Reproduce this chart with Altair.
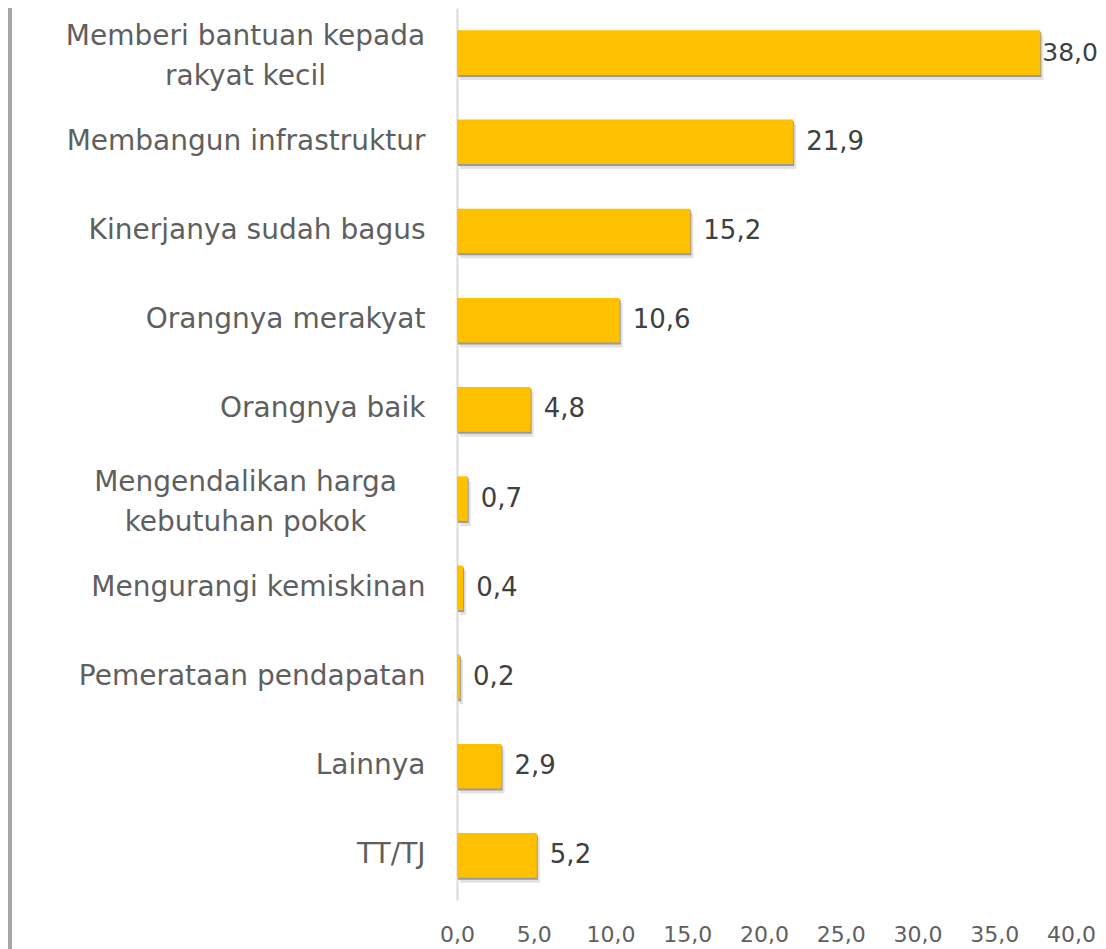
import altair as alt
import pandas as pd

categories = [
    "Memberi bantuan kepada|rakyat kecil",
    "Membangun infrastruktur",
    "Kinerjanya sudah bagus",
    "Orangnya merakyat",
    "Orangnya baik",
    "Mengendalikan harga|kebutuhan pokok",
    "Mengurangi kemiskinan",
    "Pemerataan pendapatan",
    "Lainnya",
    "TT/TJ",
]
values = [38.0, 21.9, 15.2, 10.6, 4.8, 0.7, 0.4, 0.2, 2.9, 5.2]
x_ticks = [0, 5, 10, 15, 20, 25, 30, 35, 40]

df = pd.DataFrame({"cat": categories, "val": values})

FONT = "DejaVu Sans"
multi_test = "indexof(datum.value, '|') >= 0"

y_enc = alt.Y(
    "cat:N",
    sort=categories,
    scale=alt.Scale(paddingInner=0.5, paddingOuter=0.25),
    axis=alt.Axis(
        title=None,
        ticks=False,
        domain=True,
        domainColor="#d9d9d9",
        domainWidth=2,
        labelExpr="split(datum.label, '|')",
        labelFont=FONT,
        labelFontSize=28,
        labelColor="#5f5f5f",
        labelLineHeight=40,
        labelLimit=600,
        labelAlign={"condition": {"test": multi_test, "value": "center"}, "value": "right"},
        labelPadding={"condition": {"test": multi_test, "value": 212}, "value": 32},
        labelOffset={"condition": {"test": multi_test, "value": -16}, "value": 0},
    ),
)
x_enc = alt.X(
    "val:Q",
    scale=alt.Scale(domain=[0, 40], nice=False),
    axis=alt.Axis(
        title=None,
        values=x_ticks,
        labelExpr="replace(format(datum.value, '.1f'), '.', ',')",
        labelFlush=False,
        grid=False,
        domain=False,
        ticks=False,
        labelFont=FONT,
        labelFontSize=22,
        labelColor="#5f5f5f",
        labelPadding=24,
    ),
)

base = alt.Chart(df)

shadow1 = base.mark_bar(color="#e2e2e2", xOffset=3, yOffset=5).encode(x=x_enc, y=y_enc)
shadow2 = base.mark_bar(color="#9a9a9a", xOffset=1, yOffset=2).encode(x=x_enc, y=y_enc)
bars = base.mark_bar(color="#FFC000").encode(x=x_enc, y=y_enc)
labels = base.transform_calculate(
    lbl="replace(format(datum.val, '.1f'), '.', ',')"
).mark_text(
    align="left", baseline="middle",
    dx={"expr": "datum.val > 35 ? 2 : 13"},
    fontSize={"expr": "datum.val > 35 ? 25 : 26"},
    font=FONT, color="#404040"
).encode(x=x_enc, y=y_enc, text="lbl:N")

border = base.mark_rule(color="#a6a6a6", strokeWidth=3).encode(
    x=alt.value(-447), y=alt.value(-8), y2=alt.value(945)
)

chart = alt.layer(border, shadow1, shadow2, bars, labels).properties(
    width=614,
    height=892,
    autosize=alt.AutoSizeParams(type="none"),
    padding={"left": 449, "top": 0, "right": 27, "bottom": 49},
).configure_view(stroke=None)

chart.save("out.html", embed_options={"renderer": "svg", "actions": False})
